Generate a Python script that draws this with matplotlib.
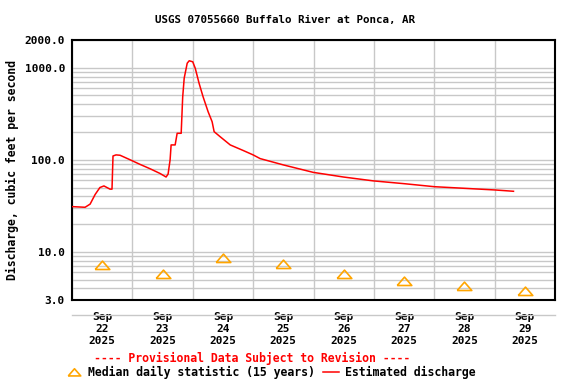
import numpy as np
import pandas as pd
import matplotlib
matplotlib.use("Agg")
import matplotlib.pyplot as plt
import matplotlib.dates as mdates
from matplotlib.lines import Line2D
from matplotlib.ticker import FixedLocator, NullFormatter

# === Data ===
start = pd.Timestamp("2025-09-22 00:00")

# estimated discharge, hours after start vs cfs
flow_hours = [0, 5.2, 7.2, 9.2, 11.1, 12.7, 15.1, 15.9, 16.3, 17.5, 19.1, 23.1,
              27.1, 31.0, 35.0, 37.4, 38.2, 39.0, 39.4, 41.0, 41.8, 43.4, 44.0,
              44.6, 45.8, 46.6, 48.0, 49.0, 50.5, 52.1, 54.1, 55.7, 56.5, 58.9,
              62.9, 68.1, 72.0, 74.8, 84.0, 95.9, 107.9, 119.8, 132.1, 144.1,
              156.0, 168.2, 175.5]
flow_cfs = [31, 30.5, 33, 42, 50, 52, 48, 48, 110, 113, 112, 100,
            89, 80, 71, 65, 70, 100, 145, 145, 194, 194, 480,
            770, 1120, 1190, 1160, 985, 680, 484, 333, 259, 202, 178,
            145, 126, 113, 103, 88, 73, 65, 59, 55, 51,
            49, 47, 45.5]

# median daily statistic (15 years), plotted at noon
median_days = ["2025-09-22", "2025-09-23", "2025-09-24", "2025-09-25",
               "2025-09-26", "2025-09-27", "2025-09-28", "2025-09-29"]
median_cfs = [7.2, 5.75, 8.5, 7.3, 5.8, 4.8, 4.3, 3.8]

y_ticks = [3, 10, 100, 1000, 2000]
y_tick_labels = ["3.0", "10.0", "100.0", "1000.0", "2000.0"]

flow_t = start + pd.to_timedelta(flow_hours, unit="h")
median_t = pd.to_datetime(median_days) + pd.Timedelta(hours=12)

# === Figure ===
plt.rcParams["font.family"] = "DejaVu Sans Mono"
plt.rcParams["font.weight"] = "bold"
fig = plt.figure(figsize=(5.76, 3.84), dpi=100)
ax = fig.add_axes([72 / 576, 1 - 300 / 384, (555 - 72) / 576, 260 / 384])

tri = [(-1, -0.55), (1, -0.55), (0, 0.6), (-1, -0.55)]
ax.plot(flow_t, flow_cfs, color="red", lw=1.1, zorder=3)
ax.plot(median_t, median_cfs, ls="none", marker=tri, ms=10.5, mfc="none",
        mec="orange", mew=1.2, zorder=3)

ax.set_yscale("log")
ax.set_ylim(3, 2000)
ax.set_xlim(start, start + pd.Timedelta(days=8))

minor_y = [v * 10 ** e for e in range(0, 4) for v in range(1, 10)]
minor_y = [v for v in minor_y if 3 <= v <= 2000]
ax.yaxis.set_major_locator(FixedLocator(y_ticks))
ax.set_yticklabels(y_tick_labels, fontweight="bold")
ax.yaxis.set_minor_locator(FixedLocator(minor_y))
ax.yaxis.set_minor_formatter(NullFormatter())

ax.xaxis.set_major_locator(mdates.HourLocator(byhour=[12]))
ax.xaxis.set_major_formatter(mdates.DateFormatter("%b\n%d\n%Y"))
ax.xaxis.set_minor_locator(mdates.HourLocator(byhour=[0]))

ax.grid(True, which="minor", color="#c8c8c8", lw=1)
ax.grid(True, which="major", axis="y", color="#c8c8c8", lw=1)
ax.set_axisbelow(True)
ax.tick_params(which="both", length=0)
ax.tick_params(axis="both", labelsize=8)
ax.tick_params(axis="x", pad=9)
ax.tick_params(axis="y", pad=5)
for s in ax.spines.values():
    s.set_linewidth(1.5)

ax.set_ylabel("Discharge, cubic feet per second", fontsize=8.3, labelpad=4,
              fontweight="bold")
fig.text(0.495, 1 - 20 / 384, "USGS 07055660 Buffalo River at Ponca, AR",
         ha="center", va="center", fontsize=7.8, fontweight="bold")

# gray rule under the axis
fig.add_artist(Line2D([72 / 576, 555 / 576], [1 - 315 / 384] * 2,
                      color="#c8c8c8", lw=1))

fig.text(252 / 576, 1 - 358 / 384, "---- Provisional Data Subject to Revision ----",
         ha="center", va="center", color="red", fontsize=8.3, fontweight="bold")

handles = [Line2D([], [], ls="none", marker=tri, ms=9, mfc="none",
                  mec="orange", mew=1.2),
           Line2D([], [], color="red", lw=1.1)]
fig.legend(handles, ["Median daily statistic (15 years)", "Estimated discharge"],
           loc="center", bbox_to_anchor=(271 / 576, 1 - 372 / 384), ncol=2,
           frameon=False, handlelength=1.4, handletextpad=0.5,
           columnspacing=0.7, borderpad=0,
           prop={"weight": "bold", "size": 8.3})

fig.canvas.draw()
plt.setp(ax.get_xticklabels(), fontweight="bold")

fig.savefig("out.png", dpi=100)
